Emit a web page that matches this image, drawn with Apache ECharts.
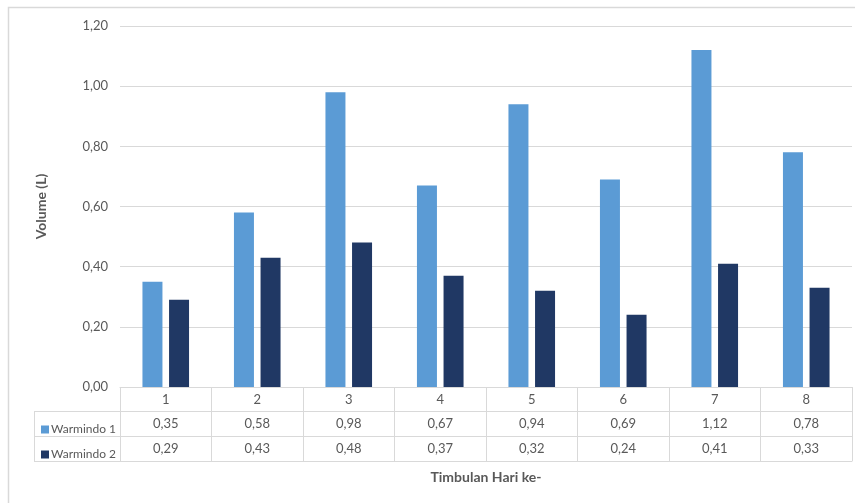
<!DOCTYPE html>
<html><head><meta charset="utf-8">
<script src="https://cdn.jsdelivr.net/npm/echarts@6/dist/echarts.min.js"></script>
<style>html,body{margin:0;padding:0;background:#fff}#c{width:855px;height:503px}</style>
</head><body><div id="c"></div>
<script>
const categories = ['1','2','3','4','5','6','7','8'];
const warmindo1 = [0.35,0.58,0.98,0.67,0.94,0.69,1.12,0.78];
const warmindo2 = [0.29,0.43,0.48,0.37,0.32,0.24,0.41,0.33];
const seriesNames = ['Warmindo 1','Warmindo 2'];
const yTicks = {min:0, max:1.2, interval:0.2};

const fmt = v => v.toFixed(2).replace('.', ',');
const FONT = 'Lato, "Open Sans", sans-serif';
const GRAY = '#595959';
const LINE = '#d9d9d9';
const C1 = '#5b9bd5', C2 = '#203864';

const chart = echarts.init(document.getElementById('c'), null, {renderer:'canvas'});
const baseX = {type:'category', position:'bottom', boundaryGap:true,
  axisTick:{show:false}, splitLine:{show:false},
  axisLine:{show:true, lineStyle:{color:LINE, width:1}},
  axisLabel:{color:GRAY, fontSize:13, fontFamily:FONT, margin:6, interval:0}};
chart.setOption({
  animation:false,
  textStyle:{fontFamily:FONT},
  grid:{left:120, right:3, top:26, bottom:116},
  legend:{orient:'vertical', left:36, top:417, itemWidth:8, itemHeight:8, itemGap:10,
    icon:'rect', textStyle:{color:GRAY, fontSize:12, fontFamily:FONT, lineHeight:15, padding:[0,0,0,-3]},
    data:seriesNames, selectedMode:false},
  xAxis:[
    Object.assign({}, baseX, {data:categories, gridIndex:0,
      axisTick:{show:true, length:74, alignWithLabel:false, lineStyle:{color:LINE}}}),
    Object.assign({}, baseX, {data:warmindo1.map(fmt), offset:24}),
    Object.assign({}, baseX, {data:warmindo2.map(fmt), offset:49}),
    Object.assign({}, baseX, {data:categories, offset:74, axisLabel:{show:false},
      name:'Timbulan Hari ke-', nameLocation:'middle', nameGap:9,
      nameTextStyle:{color:GRAY, fontSize:14, fontWeight:'bold', fontFamily:FONT}})
  ],
  yAxis:{type:'value', min:yTicks.min, max:yTicks.max, interval:yTicks.interval,
    axisLine:{show:false}, axisTick:{show:false},
    splitLine:{lineStyle:{color:LINE, width:1}},
    axisLabel:{color:GRAY, fontSize:13, fontFamily:FONT, margin:12, formatter:v=>fmt(v)},
    name:'Volume (L)', nameLocation:'middle', nameGap:72,
    nameTextStyle:{color:GRAY, fontSize:14, fontWeight:'bold', fontFamily:FONT}},
  series:[
    {name:seriesNames[0], type:'bar', data:warmindo1, xAxisIndex:0, barWidth:20, barGap:'33%',
     itemStyle:{color:C1}},
    {name:seriesNames[1], type:'bar', data:warmindo2, xAxisIndex:0, barWidth:20, barGap:'33%',
     itemStyle:{color:C2}}
  ],
  graphic:[
    {type:'rect', shape:{x:8.5, y:7.5, width:870, height:520}, style:{fill:null, stroke:LINE, lineWidth:1.5}, silent:true},
    {type:'line', shape:{x1:34, y1:411.5, x2:120, y2:411.5}, style:{stroke:LINE, lineWidth:1}},
    {type:'line', shape:{x1:34, y1:436.5, x2:120, y2:436.5}, style:{stroke:LINE, lineWidth:1}},
    {type:'line', shape:{x1:34, y1:461.5, x2:120, y2:461.5}, style:{stroke:LINE, lineWidth:1}},
    {type:'line', shape:{x1:34.5, y1:411, x2:34.5, y2:462}, style:{stroke:LINE, lineWidth:1}}
  ]
});
</script></body></html>
